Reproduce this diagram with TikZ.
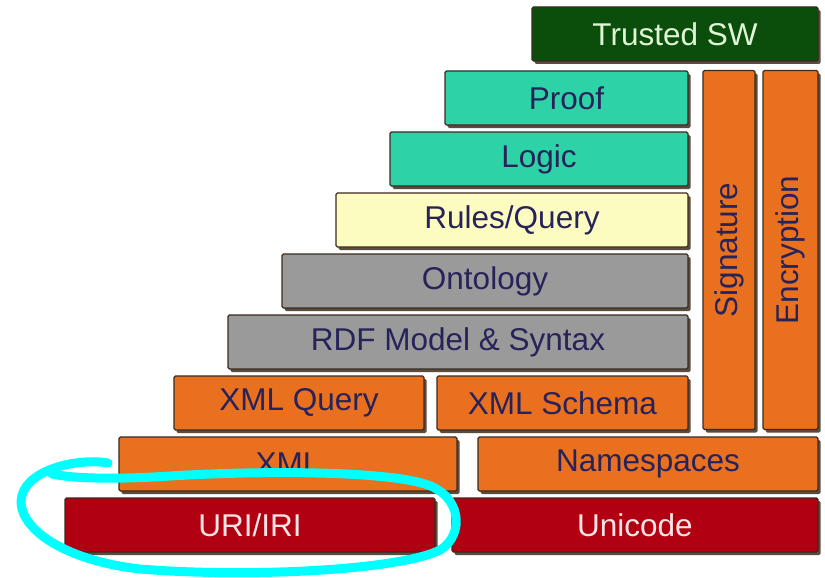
\documentclass[tikz,border=0pt]{standalone}
\usepackage{fontspec}
\setmainfont{Liberation Sans}
\usetikzlibrary{shadows}
\definecolor{swgreen}{HTML}{0B4D0B}
\definecolor{swtext}{HTML}{DFF5D5}
\definecolor{teal}{HTML}{2DD3A7}
\definecolor{rulesyellow}{HTML}{FCFCC0}
\definecolor{ontgray}{HTML}{9A9A9A}
\definecolor{xmlorange}{HTML}{E8701E}
\definecolor{urired}{HTML}{B00012}
\definecolor{uritext}{HTML}{FFE4E4}
\definecolor{labelblue}{HTML}{27235A}
\definecolor{edge}{HTML}{3B2A1E}
\definecolor{marker}{HTML}{00FFFF}
\begin{document}
\begin{tikzpicture}[x=1pt, y=-1pt,
  layer/.style={draw=edge, line width=1.2pt, rounded corners=1.5pt,
    minimum height=54pt, inner sep=0pt, text=labelblue,
    font=\fontsize{31.5}{31.5}\selectfont,
    drop shadow={shadow xshift=2.5pt, shadow yshift=-3pt, fill=black!75!brown, opacity=0.8}},
  marker/.style={draw=marker, line width=9pt, line cap=round}]
\useasboundingbox (0,0) rectangle (825,578);
% top of the stack
\node[layer, fill=swgreen, text=swtext, minimum width=286pt] (trusted) at (675,34) {Trusted SW};
\node[layer, fill=teal, minimum width=243pt] (proof) at (566.5,98) {Proof};
\node[layer, fill=teal, minimum width=298pt] (logic) at (539,159) {Logic};
\node[layer, fill=rulesyellow, minimum width=352pt] (rules) at (512,220) {Rules/Query};
\node[layer, fill=ontgray, minimum width=406pt] (ontology) at (485,281) {Ontology};
\node[layer, fill=ontgray, minimum width=460pt] (rdf) at (458,342) {RDF Model \& Syntax};
% xml layers
\node[layer, fill=xmlorange, minimum width=250pt] (xmlquery) at (299,403) {XML Query};
\node[layer, fill=xmlorange, minimum width=251pt] (xmlschema) at (562.5,403) {XML Schema};
\node[layer, fill=xmlorange, minimum width=338pt] (xml) at (288,464) {XML};
\node[layer, fill=xmlorange, minimum width=340pt] (namespaces) at (648,464) {Namespaces};
% bottom
\node[layer, fill=urired, text=uritext, minimum width=370pt] (uri) at (250,525) {URI/IRI};
\node[layer, fill=urired, text=uritext, minimum width=366pt] (unicode) at (635,525) {Unicode};
% vertical bars
\node[layer, fill=xmlorange, minimum width=52pt, minimum height=359pt] (signature) at (729,250) {};
\node[layer, fill=xmlorange, minimum width=55pt, minimum height=359pt] (encryption) at (790.5,250) {};
\node[rotate=90, text=labelblue, font=\fontsize{31.5}{31.5}\selectfont] (sigtext) at (signature) {Signature};
\node[rotate=90, text=labelblue, font=\fontsize{31.5}{31.5}\selectfont] (enctext) at (encryption) {Encryption};
% hand drawn loop round URI/IRI
\draw[marker] (108,463) .. controls (80,458) and (30,468) .. (22,495)
  .. controls (14,525) and (60,560) .. (140,569)
  .. controls (250,578) and (400,570) .. (440,550)
  .. controls (465,535) and (462,495) .. (425,484)
  .. controls (380,470) and (250,471) .. (170,476)
  .. controls (110,480) and (70,478) .. (52,474);
\end{tikzpicture}
\end{document}
